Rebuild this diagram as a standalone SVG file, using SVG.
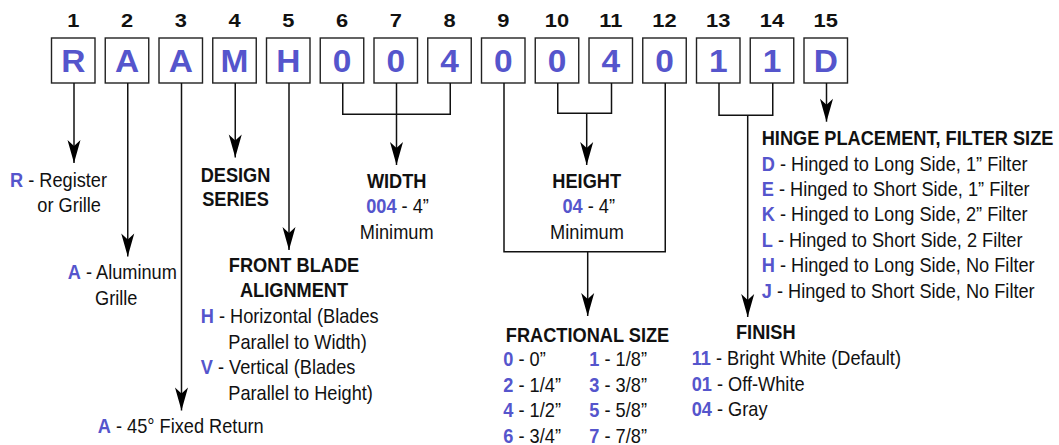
<svg xmlns="http://www.w3.org/2000/svg" width="1059" height="445" viewBox="0 0 1059 445">
<style>
.t{font-family:"Liberation Sans",Arial,Helvetica,sans-serif;font-size:20px;fill:#111}
.b{font-weight:bold}
.c{fill:#5555cc;font-weight:bold}
.mid{text-anchor:middle}
.num{font-family:"Liberation Sans",Arial,sans-serif;font-size:19px;font-weight:bold;fill:#111;text-anchor:middle}
.let{font-family:"Liberation Sans",Arial,sans-serif;font-size:31px;font-weight:bold;fill:#5555cc;text-anchor:middle}
.box{fill:#fff;stroke:#222;stroke-width:1.4}
.ln{fill:none;stroke:#111;stroke-width:1.5}
</style>
<defs>
<marker id="ah" viewBox="-24 -8 26 16" refX="0" refY="0" markerWidth="26" markerHeight="16" markerUnits="userSpaceOnUse" orient="auto">
<path d="M0,0 L-23,-6.5 L-17,0 L-23,6.5 Z" fill="#000"/>
</marker>
</defs>
<rect width="1059" height="445" fill="#fff"/>

<g id="code">
<g id="p1"><text class="num" transform="translate(73.25 27) scale(1.15 1)">1</text><rect class="box" x="51.5" y="38" width="43.5" height="45"/><text class="let" transform="translate(73.25 71.5) scale(1.08 1)">R</text></g>
<g id="p2"><text class="num" transform="translate(127 27) scale(1.15 1)">2</text><rect class="box" x="105.25" y="38" width="43.5" height="45"/><text class="let" transform="translate(127 71.5) scale(1.08 1)">A</text></g>
<g id="p3"><text class="num" transform="translate(180.75 27) scale(1.15 1)">3</text><rect class="box" x="159" y="38" width="43.5" height="45"/><text class="let" transform="translate(180.75 71.5) scale(1.08 1)">A</text></g>
<g id="p4"><text class="num" transform="translate(234.5 27) scale(1.15 1)">4</text><rect class="box" x="212.75" y="38" width="43.5" height="45"/><text class="let" transform="translate(234.5 71.5) scale(1.08 1)">M</text></g>
<g id="p5"><text class="num" transform="translate(288.25 27) scale(1.15 1)">5</text><rect class="box" x="266.5" y="38" width="43.5" height="45"/><text class="let" transform="translate(288.25 71.5) scale(1.08 1)">H</text></g>
<g id="p6"><text class="num" transform="translate(342 27) scale(1.15 1)">6</text><rect class="box" x="320.25" y="38" width="43.5" height="45"/><text class="let" transform="translate(342 71.5) scale(1.08 1)">0</text></g>
<g id="p7"><text class="num" transform="translate(395.75 27) scale(1.15 1)">7</text><rect class="box" x="374" y="38" width="43.5" height="45"/><text class="let" transform="translate(395.75 71.5) scale(1.08 1)">0</text></g>
<g id="p8"><text class="num" transform="translate(449.5 27) scale(1.15 1)">8</text><rect class="box" x="427.75" y="38" width="43.5" height="45"/><text class="let" transform="translate(449.5 71.5) scale(1.08 1)">4</text></g>
<g id="p9"><text class="num" transform="translate(503.25 27) scale(1.15 1)">9</text><rect class="box" x="481.5" y="38" width="43.5" height="45"/><text class="let" transform="translate(503.25 71.5) scale(1.08 1)">0</text></g>
<g id="p10"><text class="num" transform="translate(557 27) scale(1.15 1)">10</text><rect class="box" x="535.25" y="38" width="43.5" height="45"/><text class="let" transform="translate(557 71.5) scale(1.08 1)">0</text></g>
<g id="p11"><text class="num" transform="translate(610.75 27) scale(1.15 1)">11</text><rect class="box" x="589" y="38" width="43.5" height="45"/><text class="let" transform="translate(610.75 71.5) scale(1.08 1)">4</text></g>
<g id="p12"><text class="num" transform="translate(664.5 27) scale(1.15 1)">12</text><rect class="box" x="642.75" y="38" width="43.5" height="45"/><text class="let" transform="translate(664.5 71.5) scale(1.08 1)">0</text></g>
<g id="p13"><text class="num" transform="translate(718.25 27) scale(1.15 1)">13</text><rect class="box" x="696.5" y="38" width="43.5" height="45"/><text class="let" transform="translate(718.25 71.5) scale(1.08 1)">1</text></g>
<g id="p14"><text class="num" transform="translate(772 27) scale(1.15 1)">14</text><rect class="box" x="750.25" y="38" width="43.5" height="45"/><text class="let" transform="translate(772 71.5) scale(1.08 1)">1</text></g>
<g id="p15"><text class="num" transform="translate(825.75 27) scale(1.15 1)">15</text><rect class="box" x="804" y="38" width="43.5" height="45"/><text class="let" transform="translate(825.75 71.5) scale(1.08 1)">D</text></g>
</g>

<g id="connectors">
<path class="ln" d="M74,83 V163" marker-end="url(#ah)"/>
<path class="ln" d="M127.75,83 V256.5" marker-end="url(#ah)"/>
<path class="ln" d="M181.5,83 V410.5" marker-end="url(#ah)"/>
<path class="ln" d="M235.25,83 V157.5" marker-end="url(#ah)"/>
<path class="ln" d="M289,83 V250" marker-end="url(#ah)"/>
<path class="ln" d="M342.75,83 V114.3 H450.25 V83"/>
<path class="ln" d="M396.5,83 V165" marker-end="url(#ah)"/>
<path class="ln" d="M504,83 V251.7 H665.25 V83"/>
<path class="ln" d="M587.7,251.7 V316" marker-end="url(#ah)"/>
<path class="ln" d="M557.75,83 V113.3 H611.5 V83"/>
<path class="ln" d="M586.7,113.3 V165" marker-end="url(#ah)"/>
<path class="ln" d="M719,83 V115.3 H772.75 V83"/>
<path class="ln" d="M747.7,115.3 V317" marker-end="url(#ah)"/>
<path class="ln" d="M826.5,83 V121.7" marker-end="url(#ah)"/>
</g>

<g id="type">
<text class="t" transform="translate(10 187) scale(0.91 1)"><tspan class="c">R</tspan> - Register</text>
<text class="t" transform="translate(37.3 212) scale(0.91 1)">or Grille</text>
</g>
<g id="material">
<text class="t" transform="translate(67.7 279.3) scale(0.91 1)"><tspan class="c">A</tspan> - Aluminum</text>
<text class="t" transform="translate(95 305) scale(0.91 1)">Grille</text>
</g>
<g id="return">
<text class="t" transform="translate(97.7 433.3) scale(0.91 1)"><tspan class="c">A</tspan> - 45° Fixed Return</text>
</g>
<g id="design">
<text class="t b mid" transform="translate(235.5 181.7) scale(0.91 1)">DESIGN</text>
<text class="t b mid" transform="translate(235.5 206) scale(0.91 1)">SERIES</text>
</g>
<g id="blade">
<text class="t b mid" transform="translate(294 271.7) scale(0.91 1)">FRONT BLADE</text>
<text class="t b mid" transform="translate(294 296.7) scale(0.91 1)">ALIGNMENT</text>
<text class="t" transform="translate(200.7 323.3) scale(0.91 1)"><tspan class="c">H</tspan> - Horizontal (Blades</text>
<text class="t" transform="translate(228.3 349) scale(0.91 1)">Parallel to Width)</text>
<text class="t" transform="translate(200.7 374.3) scale(0.91 1)"><tspan class="c">V</tspan> - Vertical (Blades</text>
<text class="t" transform="translate(228.3 400) scale(0.91 1)">Parallel to Height)</text>
</g>
<g id="width">
<text class="t b mid" transform="translate(396.7 188.3) scale(0.91 1)">WIDTH</text>
<text class="t mid" transform="translate(397.5 213.3) scale(0.91 1)"><tspan class="c">004</tspan> - 4”</text>
<text class="t mid" transform="translate(396.7 239.3) scale(0.91 1)">Minimum</text>
</g>
<g id="height">
<text class="t b mid" transform="translate(586.7 188.3) scale(0.91 1)">HEIGHT</text>
<text class="t mid" transform="translate(588.7 213.3) scale(0.91 1)"><tspan class="c">04</tspan> - 4”</text>
<text class="t mid" transform="translate(587 239.3) scale(0.91 1)">Minimum</text>
</g>
<g id="fraction">
<text class="t b mid" transform="translate(587.5 342.3) scale(0.91 1)">FRACTIONAL SIZE</text>
<text class="t" transform="translate(503.3 366.3) scale(0.91 1)"><tspan class="c">0</tspan> - 0”</text>
<text class="t" transform="translate(589.3 366.3) scale(0.91 1)"><tspan class="c">1</tspan> - 1/8”</text>
<text class="t" transform="translate(503.3 391.8) scale(0.91 1)"><tspan class="c">2</tspan> - 1/4”</text>
<text class="t" transform="translate(589.3 391.8) scale(0.91 1)"><tspan class="c">3</tspan> - 3/8”</text>
<text class="t" transform="translate(503.3 417.3) scale(0.91 1)"><tspan class="c">4</tspan> - 1/2”</text>
<text class="t" transform="translate(589.3 417.3) scale(0.91 1)"><tspan class="c">5</tspan> - 5/8”</text>
<text class="t" transform="translate(503.3 442.5) scale(0.91 1)"><tspan class="c">6</tspan> - 3/4”</text>
<text class="t" transform="translate(589.3 442.5) scale(0.91 1)"><tspan class="c">7</tspan> - 7/8”</text>
</g>
<g id="finish">
<text class="t b" transform="translate(736 339.3) scale(0.91 1)">FINISH</text>
<text class="t" transform="translate(691.7 365) scale(0.91 1)"><tspan class="c">11</tspan> - Bright White (Default)</text>
<text class="t" transform="translate(691.7 390.7) scale(0.91 1)"><tspan class="c">01</tspan> - Off-White</text>
<text class="t" transform="translate(691.7 415.7) scale(0.91 1)"><tspan class="c">04</tspan> - Gray</text>
</g>
<g id="hinge">
<text class="t b" transform="translate(761.7 145) scale(0.91 1)">HINGE PLACEMENT, FILTER SIZE</text>
<text class="t" transform="translate(761.7 170.7) scale(0.91 1)"><tspan class="c">D</tspan> - Hinged to Long Side, 1” Filter</text>
<text class="t" transform="translate(761.7 195.7) scale(0.91 1)"><tspan class="c">E</tspan> - Hinged to Short Side, 1” Filter</text>
<text class="t" transform="translate(761.7 221) scale(0.91 1)"><tspan class="c">K</tspan> - Hinged to Long Side, 2” Filter</text>
<text class="t" transform="translate(761.7 246.7) scale(0.91 1)"><tspan class="c">L</tspan> - Hinged to Short Side, 2 Filter</text>
<text class="t" transform="translate(761.7 272.3) scale(0.91 1)"><tspan class="c">H</tspan> - Hinged to Long Side, No Filter</text>
<text class="t" transform="translate(761.7 297.7) scale(0.91 1)"><tspan class="c">J</tspan> - Hinged to Short Side, No Filter</text>
</g>
</svg>
